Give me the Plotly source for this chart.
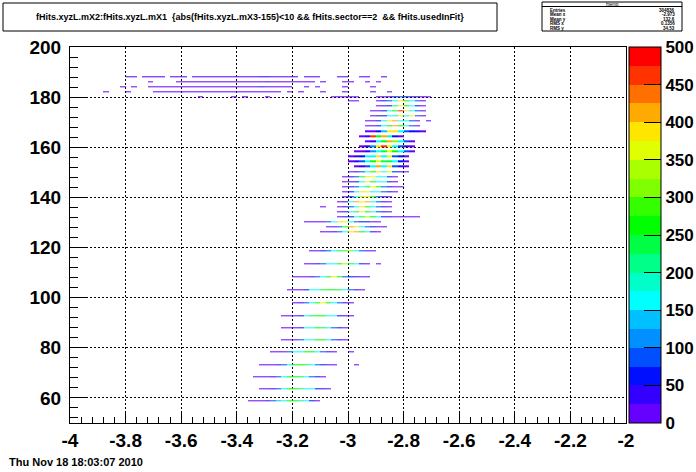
import numpy as np
import plotly.graph_objects as go

# ---------------- data ----------------
x_min, x_max, n_xbins = -4.0, -2.0, 100
row_half = 0.22  # half height of a filled row (y units)

# Each segment: row y position, first x-bin index, list of counts in consecutive x bins
seg_y = [
    188.1, 188.1, 188.1, 188.1, 188.1, 188.1, 188.1, 188.1,
    186.0, 186.0, 186.0, 186.0, 186.0, 186.0,
    184.0, 184.0, 184.0, 184.0, 184.0, 184.0, 184.0,
    182.0, 182.0, 182.0, 182.0, 182.0, 182.0, 182.0, 182.0, 182.0,
    180.0, 180.0, 180.0, 180.0, 180.0, 180.0,
    178.4, 178.4,
    176.4, 174.4, 172.4, 170.4, 170.4, 168.4, 166.4, 164.4, 162.4, 160.4,
    158.4, 156.4, 154.4, 152.4, 150.4, 148.4, 146.4, 144.4, 142.4, 140.4,
    138.4, 136.4, 136.4, 134.4, 132.4, 132.4, 130.4, 128.4, 126.4,
    118.8, 113.6, 113.6, 108.4, 103.2, 98.0, 92.8, 88.0, 83.2,
    78.4, 78.4, 73.2, 73.2, 68.4, 63.6, 58.8,
]
seg_bin0 = [
    10, 13, 18, 22, 42, 48, 52, 56,
    14, 19, 45, 49, 53, 55,
    9, 11, 14, 42, 44, 49, 54,
    6, 10, 15, 39, 41, 45, 49, 54, 57,
    23, 29, 31, 35, 47, 55,
    50, 55,
    55, 54, 54, 53, 64, 53, 53, 52, 53, 52,
    51, 50, 50, 51, 50, 49, 49, 49, 49, 49,
    48, 45, 48, 48, 48, 62, 42, 46, 45,
    43, 42, 55, 40, 39, 40, 38, 38, 38,
    36, 50, 34, 51, 33, 34, 32,
]
seg_counts = [
    [6, 8], [8, 10, 7, 6], [7, 9, 6],
    [10, 12, 9, 14, 11, 8, 13, 10, 9, 12, 15, 10, 30, 32, 9, 12, 10, 8, 6],
    [8, 10, 6], [7, 9], [6, 8], [5],
    [7],
    [9, 11, 8, 12, 10, 14, 9, 11, 13, 10, 12, 9, 15, 11, 10, 13, 28, 12, 10, 14, 9, 11, 8, 10, 7],
    [6], [7, 8], [6], [5],
    [6], [7],
    [8, 10, 12, 9, 11, 14, 10, 12, 9, 13, 11, 15, 10, 12, 14, 11, 9, 13, 10, 12, 28, 11, 9, 10, 8, 7],
    [6], [7], [6], [5],
    [5], [7],
    [9, 11, 8, 12, 10, 13, 9, 11, 14, 10, 12, 9, 13, 11, 10, 12, 14, 9, 11, 10, 8, 9, 7],
    [6], [7], [6], [5], [6], [5],
    [5], [5], [4], [6], [6, 8, 7, 9, 6],
    [10, 20, 35, 60, 80, 60, 40, 25, 12, 6],
    [6, 7],
    [15, 50, 90, 160, 380, 270, 170, 80, 20],
    [10, 30, 70, 200, 370, 250, 170, 70, 20],
    [10, 20, 60, 160, 250, 470, 380, 170, 80, 15],
    [10, 30, 70, 150, 180, 370, 170, 350, 80, 20],
    [10, 20, 60, 150, 380, 420, 170, 160, 80, 20],
    [6],
    [10, 20, 70, 160, 260, 420, 250, 170, 80, 20],
    [10, 20, 50, 130, 380, 390, 170, 90, 60, 30, 10],
    [10, 30, 470, 250, 400, 180, 60, 15],
    [10, 40, 150, 250, 400, 300, 170, 80, 15],
    [10, 40, 100, 380, 470, 350, 160, 80, 30, 10],
    [10, 20, 40, 120, 170, 240, 360, 250, 160, 80, 20],
    [10, 30, 70, 150, 170, 380, 170, 370, 80, 50, 15],
    [10, 30, 80, 160, 250, 370, 230, 240, 160, 70, 15],
    [10, 40, 80, 160, 420, 170, 380, 80, 40, 10],
    [10, 30, 80, 160, 250, 380, 170, 370, 70, 40, 10],
    [10, 40, 80, 240, 380, 370, 170, 160, 70, 15],
    [10, 30, 70, 170, 370, 250, 170, 150, 60, 15],
    [10, 30, 80, 170, 260, 370, 250, 90, 60, 20, 8],
    [10, 60, 160, 380, 360, 170, 150, 80, 50, 15],
    [10, 50, 170, 330, 380, 260, 90, 40, 10],
    [10, 40, 160, 420, 380, 410, 160, 80, 30, 10],
    [5],
    [10, 30, 80, 150, 380, 250, 160, 80, 30, 10],
    [10, 40, 170, 240, 370, 250, 170, 80, 30, 10],
    [10, 30, 70, 160, 240, 330, 250, 160, 70, 40, 20, 10, 8, 5],
    [5],
    [8, 10, 12, 20, 80, 160, 380, 370, 160, 90, 70, 50, 20, 8],
    [10, 20, 80, 250, 420, 380, 170, 80, 60, 20, 8],
    [10, 15, 30, 80, 160, 380, 420, 250, 170, 30, 10],
    [10, 20, 60, 80, 150, 240, 280, 320, 160, 80, 20, 10],
    [10, 15, 30, 80, 150, 170, 250, 330, 240, 160, 40, 10],
    [5],
    [8, 12, 20, 30, 80, 160, 250, 380, 250, 90, 60, 25, 12, 6],
    [8, 12, 20, 70, 150, 170, 240, 260, 270, 240, 160, 80, 25, 8],
    [10, 25, 80, 160, 260, 370, 260, 170, 80, 30, 10],
    [8, 12, 20, 70, 160, 240, 270, 250, 170, 150, 70, 25, 8],
    [8, 12, 20, 30, 150, 170, 250, 240, 170, 80, 60, 10],
    [8, 12, 20, 80, 150, 170, 260, 270, 170, 80, 25, 10],
    [8, 12, 20, 80, 150, 170, 250, 260, 160, 80, 30, 10],
    [5],
    [8, 12, 20, 40, 80, 160, 250, 270, 240, 170, 80, 60, 20, 8],
    [5],
    [8, 10, 15, 25, 80, 160, 250, 260, 240, 170, 80, 60, 15],
    [8, 12, 25, 80, 160, 250, 260, 200, 170, 150, 70, 25, 10],
    [6, 10, 15, 40, 80, 140, 170, 250, 260, 220, 160, 70, 20],
]

x_ticks = [-4, -3.8, -3.6, -3.4, -3.2, -3, -2.8, -2.6, -2.4, -2.2, -2]
x_tick_text = ["-4", "-3.8", "-3.6", "-3.4", "-3.2", "-3", "-2.8", "-2.6", "-2.4", "-2.2", "-2"]
y_ticks = [60, 80, 100, 120, 140, 160, 180, 200]
cb_ticks = [0, 50, 100, 150, 200, 250, 300, 350, 400, 450, 500]

palette = ["#6600ff", "#3300ff", "#0010ff", "#0050ff", "#0090ff", "#00c0ff",
           "#00ffff", "#00ffc8", "#00ff88", "#00ff44", "#00ff00", "#33ff00",
           "#80ff00", "#aaff00", "#e0ff00", "#ffe600", "#ffaa00", "#ff7000",
           "#ff3300", "#ff0000"]

title_text = "fHits.xyzL.mX2:fHits.xyzL.mX1  {abs(fHits.xyzL.mX3-155)<10 && fHits.sector==2  && fHits.usedInFit}"
stats_name = "htemp"
stats_labels = ["Entries", "Mean x", "Mean y", "RMS x", "RMS y"]
stats_values = ["304836", "-2.973", "132.6", "0.1356", "34.53"]
date_text = "Thu Nov 18 18:03:07 2010"

# ---------------- build histogram grid ----------------
rows = {}
for y, b0, counts in zip(seg_y, seg_bin0, seg_counts):
    r = rows.setdefault(y, [None] * n_xbins)
    for k, c in enumerate(counts):
        r[b0 + k] = c

row_keys = sorted(rows)
y_edges, z = [], []
for i, y in enumerate(row_keys):
    if i > 0:
        z.append([None] * n_xbins)
    y_edges += [y - row_half, y + row_half]
    z.append(rows[y])
x_edges = np.linspace(x_min, x_max, n_xbins + 1)

n = len(palette)
colorscale = []
for i, c in enumerate(palette):
    colorscale.append([i / n, c])
    colorscale.append([(i + 1) / n, c])

FONT = "Liberation Sans, Arial, sans-serif"

fig = go.Figure(go.Heatmap(
    x=x_edges, y=y_edges, z=z, zmin=0, zmax=500,
    colorscale=colorscale, zsmooth=False, hoverongaps=False,
    colorbar=dict(
        x=(629 - 70) / 556, xanchor="left", xpad=0, ypad=0,
        y=0.5, yanchor="middle", len=1, lenmode="fraction",
        thickness=32, thicknessmode="pixels",
        outlinecolor="black", outlinewidth=1,
        tickmode="array", tickvals=cb_ticks, ticks="inside", ticklen=17,
        tickcolor="black", tickwidth=1,
        tickfont=dict(family=FONT, size=17, color="black", weight="bold"),
    ),
))

L, T, W, H = 70, 47, 556, 376


def px(x):
    return (x - L) / W


def py(y):
    return (T + H - y) / H


fig.update_xaxes(
    range=[x_min, x_max], tickmode="array", tickvals=x_ticks, ticktext=x_tick_text,
    ticks="inside", ticklen=11, tickcolor="black",
    minor=dict(tickmode="linear", tick0=-4, dtick=0.04, ticks="inside", ticklen=6,
               tickcolor="black", showgrid=False),
    showgrid=True, gridcolor="black", griddash="2px,2px", gridwidth=1,
    showline=True, linecolor="black", linewidth=1, mirror=True, zeroline=False,
    tickfont=dict(family=FONT, size=19, color="black", weight="bold"),
)
fig.update_yaxes(
    range=[50, 200], tickmode="array", tickvals=y_ticks,
    ticks="inside", ticklen=17, tickcolor="black", ticklabelstandoff=4,
    minor=dict(tickmode="linear", tick0=60, dtick=4, ticks="inside", ticklen=8,
               tickcolor="black", showgrid=False),
    showgrid=True, gridcolor="black", griddash="2px,2px", gridwidth=1,
    showline=True, linecolor="black", linewidth=1, mirror=True, zeroline=False,
    tickfont=dict(family=FONT, size=19, color="black", weight="bold"),
)

shapes = [
    dict(type="rect", xref="paper", yref="paper", x0=px(3), x1=px(497), y0=py(31), y1=py(3),
         line=dict(color="black", width=1), fillcolor="white"),
    dict(type="rect", xref="paper", yref="paper", x0=px(542), x1=px(682), y0=py(31), y1=py(2),
         line=dict(color="black", width=1), fillcolor="white"),
    dict(type="line", xref="paper", yref="paper", x0=px(542), x1=px(682), y0=py(6.5), y1=py(6.5),
         line=dict(color="black", width=1)),
]
ann = [
    dict(x=px(250), y=py(17), xref="paper", yref="paper", text=title_text, showarrow=False,
         xanchor="center", yanchor="middle",
         font=dict(family=FONT, size=9, color="black", weight="bold")),
    dict(x=px(612), y=py(4.3), xref="paper", yref="paper", text=stats_name, showarrow=False,
         xanchor="center", yanchor="middle",
         font=dict(family=FONT, size=4.5, color="black")),
    dict(x=px(7), y=py(462), xref="paper", yref="paper", text=date_text, showarrow=False,
         xanchor="left", yanchor="middle",
         font=dict(family=FONT, size=11, color="black", weight="bold")),
]
for i, (lab, val) in enumerate(zip(stats_labels, stats_values)):
    yy = 10 + i * 4.6
    ann.append(dict(x=px(548), y=py(yy), xref="paper", yref="paper", text=lab, showarrow=False,
                    xanchor="left", yanchor="middle",
                    font=dict(family=FONT, size=4.5, color="black", weight="bold")))
    ann.append(dict(x=px(677), y=py(yy), xref="paper", yref="paper", text=val, showarrow=False,
                    xanchor="right", yanchor="middle",
                    font=dict(family=FONT, size=4.5, color="black", weight="bold")))

fig.update_layout(
    width=696, height=472,
    margin=dict(l=L, r=696 - L - W, t=T, b=472 - T - H, autoexpand=False),
    paper_bgcolor="white", plot_bgcolor="white", showlegend=False,
    shapes=shapes, annotations=ann,
)

fig.write_html(
    "out.html",
    config={"displayModeBar": False},
    post_script="document.body.style.margin='0px'; document.body.style.overflow='hidden';",
)
